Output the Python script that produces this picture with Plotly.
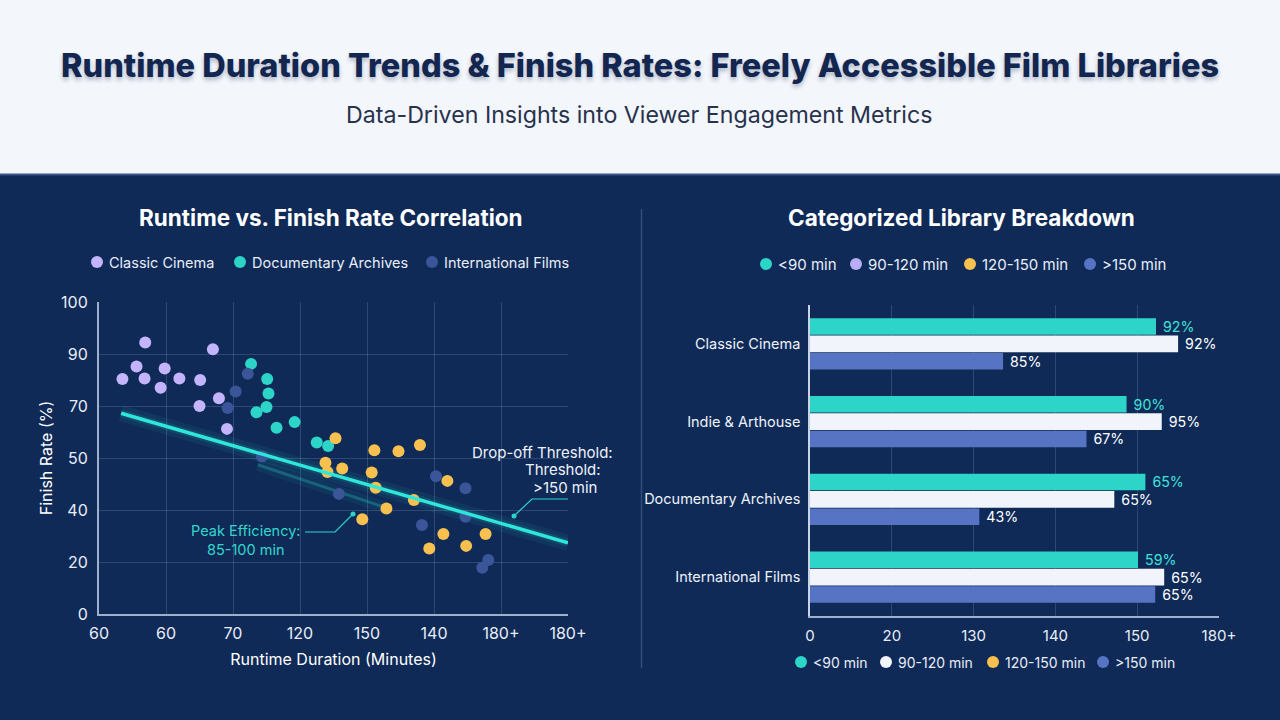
import plotly.graph_objects as go

W, H = 1280, 720

# ---------------- DATA ----------------
# Left scatter: positions on the chart's evenly spaced tick grid
x_ticktext = ["60", "60", "70", "120", "150", "140", "180+", "180+"]
y_ticktext = ["0", "20", "40", "50", "70", "90", "100"]

classic_x = [0.35, 0.56, 0.69, 0.68, 0.92, 0.98, 1.20, 1.51, 1.50, 1.70, 1.79, 1.91]
classic_y = [4.52, 4.76, 5.22, 4.53, 4.35, 4.72, 4.53, 4.50, 4.00, 5.09, 4.15, 3.56]

doc_x = [2.27, 2.51, 2.53, 2.50, 2.35, 2.65, 2.92, 3.25, 3.42]
doc_y = [4.81, 4.52, 4.24, 3.98, 3.88, 3.58, 3.69, 3.30, 3.23]

intl_x = [1.92, 2.04, 2.22, 2.43, 3.58, 5.03, 5.47, 5.47, 4.82, 5.81, 5.72]
intl_y = [3.96, 4.28, 4.62, 3.03, 2.31, 2.65, 2.42, 1.87, 1.71, 1.04, 0.89]

long_x = [3.53, 3.38, 3.41, 3.63, 4.11, 4.47, 4.79, 4.07, 4.13, 4.29, 4.70, 3.93, 5.20, 5.14, 4.93, 5.48, 5.77]
long_y = [3.38, 2.91, 2.73, 2.80, 3.15, 3.13, 3.25, 2.72, 2.43, 2.03, 2.19, 1.82, 2.56, 1.54, 1.26, 1.31, 1.54]

trend_x = [0.33, 7.0]
trend_y = [3.86, 1.37]
trend2_x = [2.37, 4.29]
trend2_y = [2.87, 2.04]

scatter_names = ["Classic Cinema", "Documentary Archives", "International Films"]
scatter_colors = ["#c3b4fb", "#2dd4c8", "#3a5699"]
long_color = "#f7c04f"

# Right bar chart
categories = ["Classic Cinema", "Indie & Arthouse", "Documentary Archives", "International Films"]
bar_ticktext = ["0", "20", "130", "140", "150", "180+"]
under90 = [4.23, 3.87, 4.10, 4.01]
mid90_120 = [4.50, 4.30, 3.72, 4.33]
over150 = [2.36, 3.38, 2.07, 4.22]
under90_lbl = ["92%", "90%", "65%", "59%"]
mid90_120_lbl = ["92%", "95%", "65%", "65%"]
over150_lbl = ["85%", "67%", "43%", "65%"]

bar_legend_top = ["<90 min", "90-120 min", "120-150 min", ">150 min"]
bar_legend_top_colors = ["#2dd4c8", "#b9aef5", "#f7c04f", "#5774c4"]
bar_legend_bottom_colors = ["#2dd4c8", "#f3f6fb", "#f7c04f", "#5774c4"]

# ---------------- STYLE ----------------
NAVY = "#0f2a57"
TEAL = "#2dd4c8"
BAR_WHITE = "#f1f5fb"
BAR_BLUE = "#5774c4"
FONT = "Inter"

def px(x):
    return x / W

def py(y):
    return 1 - y / H

fig = go.Figure()

# ---- left scatter ----
fig.add_trace(go.Scatter(x=trend_x, y=trend_y, mode="lines", line=dict(color="rgba(45,212,200,0.08)", width=16),
                         hoverinfo="skip", showlegend=False, xaxis="x", yaxis="y"))
fig.add_trace(go.Scatter(x=trend_x, y=trend_y, mode="lines", line=dict(color="rgba(45,212,200,0.12)", width=8),
                         hoverinfo="skip", showlegend=False, xaxis="x", yaxis="y"))
fig.add_trace(go.Scatter(x=trend2_x, y=trend2_y, mode="lines", line=dict(color="rgba(45,212,200,0.07)", width=12),
                         hoverinfo="skip", showlegend=False, xaxis="x", yaxis="y"))
fig.add_trace(go.Scatter(x=trend2_x, y=trend2_y, mode="lines", line=dict(color="rgba(45,212,200,0.28)", width=3),
                         hoverinfo="skip", showlegend=False, xaxis="x", yaxis="y"))

for name, xs, ys, col in zip(scatter_names, [classic_x, doc_x, intl_x], [classic_y, doc_y, intl_y], scatter_colors):
    fig.add_trace(go.Scatter(x=xs, y=ys, mode="markers", name=name,
                             marker=dict(color=col, size=12, line=dict(width=0)),
                             showlegend=False, xaxis="x", yaxis="y"))
fig.add_trace(go.Scatter(x=long_x, y=long_y, mode="markers", name="120-150 min",
                         marker=dict(color=long_color, size=12, line=dict(width=0)),
                         showlegend=False, xaxis="x", yaxis="y"))
fig.add_trace(go.Scatter(x=trend_x, y=trend_y, mode="lines", line=dict(color="#2ee6da", width=3.5),
                         hoverinfo="skip", showlegend=False, xaxis="x", yaxis="y"))

# ---- right bars ----
for vals, lbls, col, tcol, name in [
    (under90, under90_lbl, TEAL, "#3fe3da", "<90 min"),
    (mid90_120, mid90_120_lbl, BAR_WHITE, "#ffffff", "90-120 min"),
    (over150, over150_lbl, BAR_BLUE, "#ffffff", ">150 min"),
]:
    fig.add_trace(go.Bar(x=vals, y=categories, orientation="h", name=name, marker=dict(color=col, line=dict(width=0)),
                         text=[" " + t for t in lbls], textposition="outside", cliponaxis=False,
                         textfont=dict(color=tcol, size=14.5, family=FONT),
                         showlegend=False, xaxis="x2", yaxis="y2"))

# ---------------- LAYOUT ----------------
grid_col = "rgba(160,180,220,0.22)"
axis_col = "#9fb0cc"
tick_font = dict(family=FONT, size=16, color="#e8edf7")

shapes = [
    dict(type="rect", xref="paper", yref="paper", x0=0, x1=1, y0=py(174), y1=1,
         fillcolor="#f3f6fb", line=dict(width=0), layer="below"),
    dict(type="line", xref="paper", yref="paper", x0=0, x1=1, y0=py(174.5), y1=py(174.5),
         line=dict(color="#3a5587", width=2), layer="below"),
    dict(type="line", xref="paper", yref="paper", x0=px(641.5), x1=px(641.5), y0=py(209), y1=py(668),
         line=dict(color="rgba(160,180,220,0.25)", width=1.5), layer="below"),
    # annotation connectors (left chart)
    dict(type="path", xref="paper", yref="paper",
         path=f"M {px(305)},{py(532)} L {px(335)},{py(532)} L {px(353)},{py(514)}",
         line=dict(color=TEAL, width=1.2)),
    dict(type="circle", xref="paper", yref="paper", x0=px(350.5), x1=px(355.5), y0=py(516.5), y1=py(511.5),
         fillcolor=TEAL, line=dict(width=0)),
    dict(type="path", xref="paper", yref="paper",
         path=f"M {px(568)},{py(499)} L {px(532)},{py(499)} L {px(515)},{py(515)}",
         line=dict(color=TEAL, width=1.2)),
    dict(type="circle", xref="paper", yref="paper", x0=px(511.5), x1=px(516.5), y0=py(518.5), y1=py(513.5),
         fillcolor=TEAL, line=dict(width=0)),
]

annotations = [
    dict(text="Runtime Duration Trends & Finish Rates: Freely Accessible Film Libraries",
         x=px(640), y=py(65), xref="paper", yref="paper", showarrow=False, xanchor="center", yanchor="middle",
         font=dict(family=FONT, size=32.5, color="#13264f", weight=800, shadow="0px 3px 4px rgba(20,40,80,0.30)")),
    dict(text="Data-Driven Insights into Viewer Engagement Metrics",
         x=px(639), y=py(115), xref="paper", yref="paper", showarrow=False, xanchor="center", yanchor="middle",
         font=dict(family=FONT, size=23.2, color="#27324d")),
    dict(text="Runtime vs. Finish Rate Correlation", x=px(331), y=py(217), xref="paper", yref="paper",
         showarrow=False, xanchor="center", yanchor="middle",
         font=dict(family=FONT, size=22.5, color="#ffffff", weight=700)),
    dict(text="Categorized Library Breakdown", x=px(961), y=py(217), xref="paper", yref="paper",
         showarrow=False, xanchor="center", yanchor="middle",
         font=dict(family=FONT, size=22.5, color="#ffffff", weight=700)),
    dict(text="Peak Efficiency:<br>85-100 min", x=px(246), y=py(540), xref="paper", yref="paper",
         showarrow=False, xanchor="center", yanchor="middle", align="center",
         font=dict(family=FONT, size=14.5, color="#34d6cc")),
    dict(text="Drop-off Threshold:", x=px(615), y=py(452), xref="paper", yref="paper",
         showarrow=False, xanchor="right", yanchor="middle",
         font=dict(family=FONT, size=15, color="#eef2fa")),
    dict(text="Threshold:", x=px(603), y=py(469), xref="paper", yref="paper",
         showarrow=False, xanchor="right", yanchor="middle",
         font=dict(family=FONT, size=15, color="#eef2fa")),
    dict(text="&gt;150 min", x=px(599), y=py(487), xref="paper", yref="paper",
         showarrow=False, xanchor="right", yanchor="middle",
         font=dict(family=FONT, size=15, color="#eef2fa")),
]

# custom legends (dot + label)
def add_legend(labels, colors, dot_xs, y, size):
    for lab, col, dx in zip(labels, colors, dot_xs):
        shapes.append(dict(type="circle", xref="paper", yref="paper",
                           x0=px(dx - 6), x1=px(dx + 6), y0=py(y + 6), y1=py(y - 6),
                           fillcolor=col, line=dict(width=0)))
        annotations.append(dict(text=lab.replace("<", "&lt;").replace(">", "&gt;"),
                                x=px(dx + 10), y=py(y), xref="paper", yref="paper",
                                showarrow=False, xanchor="left", yanchor="middle",
                                font=dict(family=FONT, size=size, color="#e8edf7")))

add_legend(scatter_names, scatter_colors, [97, 240, 432], 262, 14.5)
add_legend(bar_legend_top, bar_legend_top_colors, [766, 856, 970, 1090], 264, 15)
add_legend(bar_legend_top, bar_legend_bottom_colors, [801, 886, 993, 1103], 662, 14)

fig.update_layout(
    width=W, height=H, autosize=False,
    margin=dict(l=0, r=0, t=0, b=0, pad=0, autoexpand=False),
    paper_bgcolor=NAVY, plot_bgcolor=NAVY,
    font=dict(family=FONT, color="#e8edf7"),
    barmode="group", bargap=0.33, bargroupgap=0.04,
    shapes=shapes, annotations=annotations,
    showlegend=False,
    xaxis=dict(domain=[px(99), px(568)], range=[0, 7], tickmode="array", tickvals=list(range(8)),
               ticktext=x_ticktext, showgrid=True, gridcolor=grid_col, gridwidth=1,
               zeroline=False, showline=True, linecolor=axis_col, linewidth=2,
               tickfont=tick_font, ticks="", ticklabelstandoff=4, automargin=False,
               title=dict(text="Runtime Duration (Minutes)", font=dict(family=FONT, size=16, color="#ffffff"),
                          standoff=12),
               anchor="y", fixedrange=True),
    yaxis=dict(domain=[py(614), py(302)], range=[0, 6], tickmode="array", tickvals=list(range(7)),
               ticktext=y_ticktext, showgrid=True, gridcolor=grid_col, gridwidth=1,
               zeroline=False, showline=True, linecolor=axis_col, linewidth=2,
               tickfont=tick_font, ticks="", ticklabelstandoff=6, automargin=False,
               title=dict(text="Finish Rate (%)", font=dict(family=FONT, size=16, color="#ffffff"),
                          standoff=4),
               anchor="x", fixedrange=True),
    xaxis2=dict(domain=[px(810), px(1219)], range=[0, 5], tickmode="array", tickvals=list(range(6)),
                ticktext=bar_ticktext, showgrid=True, gridcolor=grid_col, gridwidth=1,
                zeroline=False, showline=True, linecolor=axis_col, linewidth=2,
                tickfont=dict(family=FONT, size=15, color="#e8edf7"), ticks="", ticklabelstandoff=5,
                automargin=False, anchor="y2", fixedrange=True),
    yaxis2=dict(domain=[py(616), py(305)], type="category", categoryorder="array", categoryarray=categories,
                autorange="reversed", showgrid=False, zeroline=False, showline=True,
                linecolor="#c9d3e6", linewidth=1.5,
                tickfont=dict(family=FONT, size=14.5, color="#eef2fa"), ticks="", ticklabelstandoff=5,
                automargin=False, anchor="x2", fixedrange=True),
)

fig.write_html("out.html")
